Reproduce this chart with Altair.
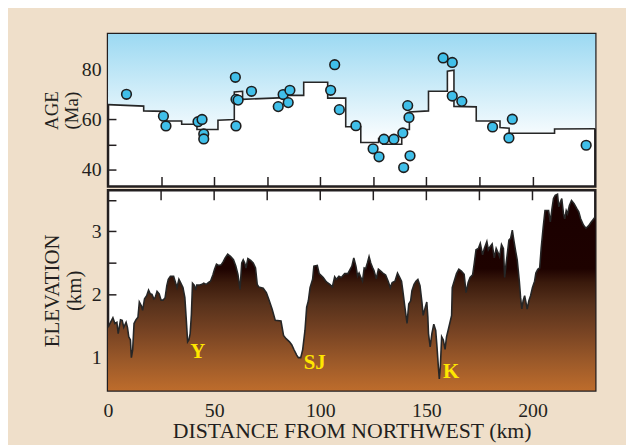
import altair as alt
import pandas as pd

# ---------------- data ----------------
# age model (step line), km from NW and age in Ma
age_km = [0, 16.8, 16.8, 26.5, 26.5, 34.7, 34.7, 41.9, 41.9, 51.8, 51.8, 59.5, 59.5, 63.4, 63.4,
          80.5, 84.4, 84.4, 92.2, 92.2, 103.5, 103.5, 112.0, 112.0, 119.1, 119.1, 127.5, 127.5,
          129.5, 129.5, 138.4, 138.4, 142.0, 142.0, 151.0, 151.0, 159.9, 159.9, 163.0, 163.0,
          173.5, 173.5, 184.7, 184.7, 189.0, 189.0, 210.4, 210.4, 229.6]
age_ma = [65.9, 65.3, 63.4, 63.2, 59.4, 59.4, 58.1, 58.1, 56.0, 56.0, 59.7, 60.0, 70.9, 71.2, 68.0,
          68.6, 68.7, 69.6, 69.6, 74.8, 74.8, 68.5, 68.5, 57.1, 57.1, 50.8, 50.8, 52.4,
          52.4, 50.1, 50.1, 56.0, 56.0, 63.0, 63.4, 71.2, 71.2, 79.2, 79.6, 65.2,
          65.0, 59.4, 59.4, 56.8, 56.5, 54.5, 54.5, 56.2, 56.3]

# sample ages
pt_km = [8.7, 26.1, 27.3, 42.4, 44.3, 45.1, 45.1, 60.0, 60.3, 61.3, 60.3, 67.6, 80.2, 82.5, 85.7,
         84.9, 104.9, 106.8, 109.0, 116.8, 124.9, 127.7, 130.0, 134.7, 138.9, 139.3, 141.2,
         141.8, 142.3, 157.9, 162.2, 162.2, 166.7, 181.2, 190.5, 188.9, 225.3]
pt_ma = [70.0, 61.3, 57.4, 59.1, 60.0, 54.2, 52.2, 76.8, 68.0, 67.7, 57.4, 71.2, 65.1, 69.9, 71.6,
         66.7, 71.6, 81.8, 63.9, 57.5, 48.3, 45.1, 52.1, 52.1, 54.6, 40.8, 65.5,
         60.8, 45.5, 84.5, 82.7, 69.3, 67.2, 57.0, 60.1, 52.6, 49.7]

# elevation profile (km)
el_km_a = [0.0, 0.75, 2.3, 3.24, 4.17, 4.79, 5.88, 6.66, 7.43, 8.52, 9.15, 9.77, 10.55, 11.0, 11.6,
           12.26, 13.2, 14.1, 14.75, 15.7, 16.3, 17.2, 18.2, 19.1, 19.9, 20.7, 21.6, 22.2, 23.1, 24.1,
           25.0, 25.9, 26.9, 27.7, 28.4, 29.4, 30.9, 31.9, 32.5, 33.4, 34.3, 35.3, 36.2, 36.8, 37.5,
           38.1, 38.7, 39.3, 39.8, 40.6, 41.2, 41.8, 43.2, 44.3, 45.1, 46.3, 47.4, 48.3, 49.4, 50.2,
           51.1, 52.1, 53.3, 54.3, 55.2, 56.4]
el_a = [1.48, 1.53, 1.63, 1.54, 1.56, 1.38, 1.60, 1.59, 1.48, 1.56, 1.48, 1.33, 1.28, 1.00, 1.12,
        1.54, 1.60, 1.64, 1.88, 1.82, 1.75, 1.93, 1.98, 2.07, 2.01, 2.00, 1.93, 1.95, 2.05, 2.01,
        1.91, 1.91, 1.95, 2.14, 2.24, 2.29, 2.29, 2.18, 2.11, 2.24, 2.18, 2.11, 1.95, 1.64, 1.25,
        1.28, 1.38, 1.69, 2.18, 2.15, 2.07, 2.15, 2.15, 2.16, 2.18, 2.16, 2.19, 2.21, 2.31, 2.40,
        2.48, 2.46, 2.47, 2.52, 2.58, 2.64]
el_km_b = [57.8, 59.1, 60.2, 61.2, 62.2, 63.0, 63.7, 64.4, 65.0, 65.9, 67.2, 68.4, 69.5, 70.3, 71.0,
           73.1, 74.6, 75.7, 77.3, 78.8, 81.5, 82.7, 83.9, 85.5, 86.6, 87.7, 88.9, 89.7, 90.8, 91.7,
           92.8, 93.6, 94.4, 95.2, 96.4, 97.0, 98.6, 99.5, 101.4, 102.9, 104.5, 105.7, 106.8, 107.6,
           108.8, 109.9, 111.5, 113.0]
el_b = [2.60, 2.55, 2.45, 2.32, 2.08, 2.50, 2.55, 2.50, 2.42, 2.57, 2.54, 2.50, 2.42, 2.16, 2.12,
        2.10, 2.03, 1.93, 1.77, 1.59, 1.58, 1.35, 1.30, 1.25, 1.20, 1.12, 1.04, 1.00, 1.00, 1.12,
        1.43, 1.80, 1.90, 2.11, 2.24, 2.45, 2.46, 2.33, 2.27, 2.20, 2.16, 2.12, 2.28, 2.24,
        2.29, 2.27, 2.33, 2.33]
el_km_c = [114.9, 115.8, 116.8, 117.6, 118.3, 119.1, 119.9, 120.7, 121.4, 122.2, 123.0, 123.8, 124.6,
           125.3, 126.4, 127.4, 128.5, 129.5, 130.8, 132.0, 133.0, 133.9, 135.2, 136.4, 137.3, 138.3,
           138.9, 139.8, 140.9, 141.7, 142.6, 143.2, 144.2, 145.1, 146.0, 147.0, 147.9, 148.5, 149.5,
           150.2, 150.7, 151.0, 151.8, 152.6, 153.5, 154.4, 155.0, 155.7, 156.1, 156.6, 157.2, 158.0,
           158.8, 159.5, 160.6, 161.9, 162.2, 163.1, 164.2, 165.3, 166.5, 167.8, 168.7, 169.7, 170.6]
el_c = [2.45, 2.58, 2.45, 2.29, 2.34, 2.27, 2.21, 2.42, 2.41, 2.50, 2.60, 2.50, 2.43,
        2.38, 2.25, 2.40, 2.37, 2.34, 2.31, 2.21, 2.11, 2.19, 2.21, 2.34, 2.28, 2.21,
        2.06, 1.82, 1.54, 1.85, 1.90, 2.06, 2.16, 2.21, 2.24, 2.14, 1.88, 1.67, 1.80,
        1.88, 1.64, 1.38, 1.17, 1.38, 1.53, 1.43, 1.17, 0.83, 0.66, 0.86, 1.33, 1.28,
        1.13, 1.33, 1.48, 1.67, 2.11, 2.21, 2.33, 2.40, 2.37, 2.32, 2.03, 2.19, 2.27]
el_km_d = [171.8, 172.6, 173.4, 174.5, 175.4, 176.5, 177.3, 178.5, 179.2, 180.1, 181.0, 182.0, 182.9,
           183.8, 184.5, 185.4, 186.3, 186.9, 187.5, 188.2, 188.9, 189.7, 190.5, 191.3, 192.1, 192.8,
           193.8, 194.4, 195.0, 195.6, 196.3, 196.9, 197.5, 198.3, 199.1, 200.0, 201.0, 201.6, 202.5,
           203.4, 204.1, 205.0, 205.9, 207.6, 208.4, 209.2, 209.9, 210.7, 211.8, 212.4, 213.1, 213.8,
           214.6, 215.2, 215.9, 216.5, 217.4, 218.4, 219.6, 220.9, 221.8, 222.7, 224.0, 225.2, 226.5,
           227.7, 228.9, 229.6]
el_d = [2.31, 2.50, 2.71, 2.73, 2.81, 2.63, 2.73, 2.84, 2.71, 2.76, 2.80, 2.58, 2.73,
        2.66, 2.60, 2.79, 2.73, 2.27, 2.47, 2.66, 2.86, 2.89, 3.02, 2.84, 2.68, 2.55,
        2.21, 1.95, 1.77, 1.90, 1.98, 1.88, 1.77, 1.90, 1.98, 2.11, 2.21, 2.34, 2.40,
        2.42, 2.73, 3.05, 3.33, 3.33, 3.15, 3.36, 3.52, 3.57, 3.59, 3.39, 3.46, 3.52,
        3.28, 3.20, 3.33, 3.28, 3.41, 3.49, 3.44, 3.36, 3.31, 3.20, 3.10, 3.05, 3.09,
        3.15, 3.20, 3.23]

# valley labels
lab_text = ["Y", "SJ", "K"]
lab_km = [42.3, 97.4, 161.7]
lab_el = [1.09, 0.92, 0.77]

x_ticks = [25, 50, 75, 100, 125, 150, 175, 200]
x_label_vals = [0, 25, 50, 75, 100, 125, 150, 175, 200]
age_ticks = [40, 50, 60, 70, 80, 90]
el_ticks = [1, 1.5, 2, 2.5, 3, 3.5]

X_DOM = [0, 229.6]
AGE_DOM = [33.3, 94.1]
EL_DOM = [0.48, 3.65]
W = 492
FONT = "Liberation Serif"
INK = "#231f20"

# ---------------- frames ----------------
age_df = pd.DataFrame({"km": age_km, "ma": age_ma})
age_df["ceil"] = AGE_DOM[1]
pt_df = pd.DataFrame({"km": pt_km, "ma": pt_ma})
el_df = pd.DataFrame({"km": el_km_a + el_km_b + el_km_c + el_km_d,
                      "el": el_a + el_b + el_c + el_d})
el_df["base"] = EL_DOM[0]
lab_df = pd.DataFrame({"t": lab_text, "km": lab_km, "el": lab_el})
tick_df = pd.DataFrame({"km": x_ticks})

xscale = alt.Scale(domain=X_DOM, nice=False, zero=False)
agescale = alt.Scale(domain=AGE_DOM, nice=False, zero=False)
elscale = alt.Scale(domain=EL_DOM, nice=False, zero=False)

# ---------------- top panel ----------------
ax_top = alt.Axis(orient="bottom", values=x_ticks, labels=False, domain=False,
                  tickSize=10, offset=-10, title=None, tickColor=INK, tickWidth=1.5)
ax_age = alt.Axis(values=age_ticks, domain=False, tickSize=8, offset=-8, labelPadding=7,
                  labelExpr="datum.value % 20 === 0 ? datum.label : ''",
                  title=["AGE", "(Ma)"], titleFontSize=19, titleLineHeight=20,
                  titlePadding=0, tickColor=INK, tickWidth=1.5)

x_t = alt.X("km:Q", scale=xscale, axis=ax_top)
y_t = alt.Y("ma:Q", scale=agescale, axis=ax_age)

sky = alt.Chart(age_df).mark_area(
    color=alt.Gradient(gradient="linear",
                       stops=[alt.GradientStop(color="#9cd9f2", offset=0),
                              alt.GradientStop(color="#ffffff", offset=1)],
                       x1=0, x2=0, y1=0, y2=1)
).encode(x=x_t, y=y_t, y2="ceil:Q")

step = alt.Chart(age_df).mark_line(color="#262626", strokeWidth=1.6).encode(x=x_t, y=y_t)

dots = alt.Chart(pt_df).mark_circle(size=95, color="#40bfe9", opacity=1, stroke="#1e1e1e",
                                    strokeWidth=1.6).encode(x=x_t, y=y_t)

top = alt.layer(sky, step, dots).properties(width=W, height=154)

# ---------------- bottom panel ----------------
ax_bot = alt.Axis(orient="bottom", values=x_label_vals, domain=False, tickSize=10,
                  offset=-10, labelPadding=10, labelFlush=False,
                  labelExpr="datum.value % 50 === 0 ? datum.label : ''",
                  title="DISTANCE FROM NORTHWEST (km)", titleFontSize=22,
                  titlePadding=1, tickColor=INK, tickWidth=1.5)
ax_el = alt.Axis(values=el_ticks, domain=False, tickSize=8, offset=-8, labelPadding=7,
                 labelExpr="datum.value % 1 === 0 ? format(datum.value, 'd') : ''",
                 title=["ELEVATION", "(km)"], titleFontSize=21, titleLineHeight=22,
                 titlePadding=7, tickColor=INK, tickWidth=1.5)

x_b = alt.X("km:Q", scale=xscale, axis=ax_bot)
y_b = alt.Y("el:Q", scale=elscale, axis=ax_el)

ground = alt.Chart(el_df).mark_area(
    color=alt.Gradient(gradient="linear",
                       stops=[alt.GradientStop(color="#1a0000", offset=0),
                              alt.GradientStop(color="#1e0200", offset=0.38),
                              alt.GradientStop(color="#3a1a0c", offset=0.45),
                              alt.GradientStop(color="#57311b", offset=0.56),
                              alt.GradientStop(color="#774323", offset=0.7),
                              alt.GradientStop(color="#9b5929", offset=0.85),
                              alt.GradientStop(color="#bd6c2c", offset=1)],
                       x1=0, x2=0, y1=0, y2=1)
).encode(x=x_b, y=y_b, y2="base:Q")

ridge = alt.Chart(el_df).mark_line(color="#262626", strokeWidth=1.6).encode(x=x_b, y=y_b)

top_ticks = alt.Chart(tick_df).mark_rule(color=INK, strokeWidth=1.5).encode(
    x=x_b, y=alt.value(0), y2=alt.value(10))

labels = alt.Chart(lab_df).mark_text(font=FONT, fontSize=21, fontWeight="bold",
                                     color="#ffe600").encode(x=x_b, y=y_b, text="t:N")

bottom = alt.layer(ground, ridge, top_ticks, labels).properties(width=W, height=202)

chart = alt.vconcat(top, bottom, spacing=0).properties(
    background="#efdfca",
    padding={"left": 32, "top": 22, "right": 26, "bottom": 0},
).configure_view(stroke=INK, strokeWidth=2.5, fill="white").configure_axis(
    labelFont=FONT, titleFont=FONT, labelColor=INK, titleColor=INK, labelFontSize=20,
    titleFontWeight="normal", grid=False, labelOverlap=False)

chart.save("out.html", embed_options={"renderer": "svg", "actions": False})
